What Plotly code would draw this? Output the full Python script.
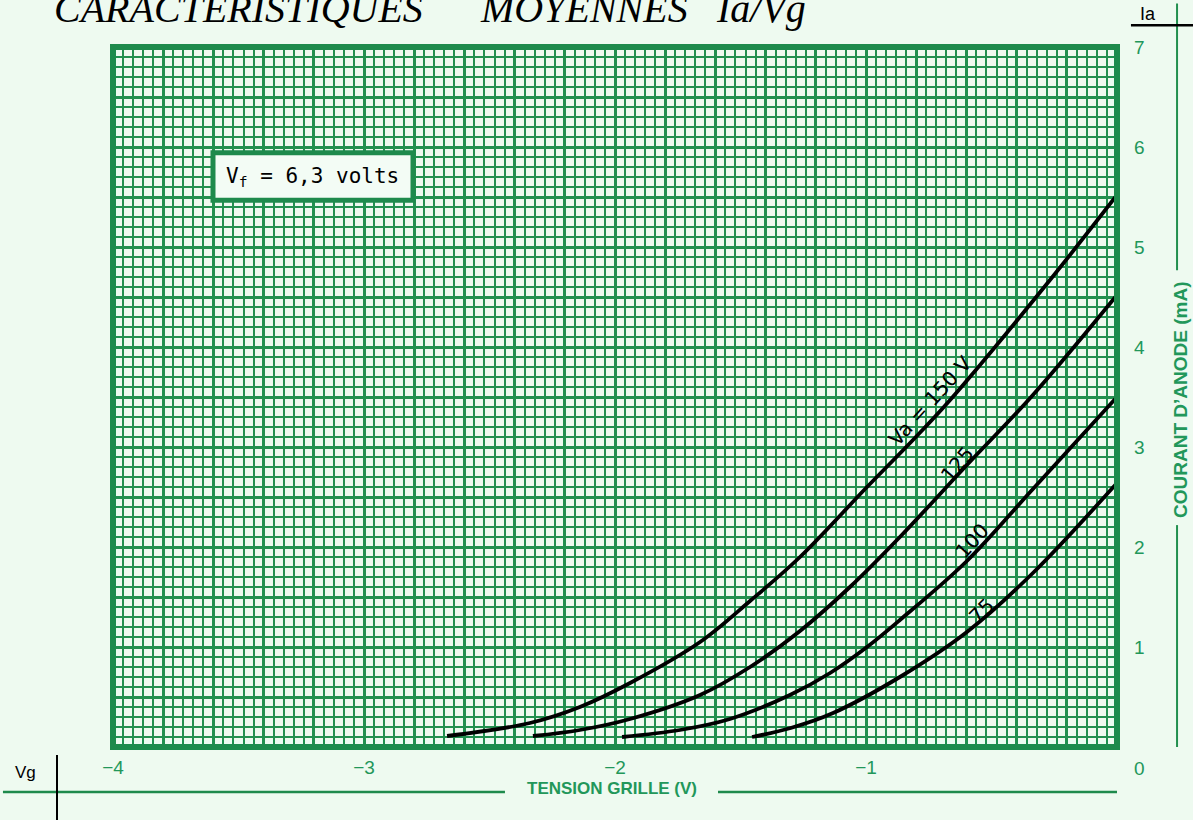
import plotly.graph_objects as go

# ---------------- data ----------------
vg_150 = [-2.669, -2.339, -2.14, -1.94, -1.661, -1.462, -1.263, -0.996, -0.813, -0.665, -0.267, 0.00]
ia_150 = [0.11, 0.24, 0.40, 0.64, 1.05, 1.46, 1.90, 2.60, 3.07, 3.47, 4.67, 5.52]

vg_125 = [-2.327, -2.14, -1.94, -1.661, -1.462, -1.263, -1.064, -0.865, -0.598, -0.335, 0.00]
ia_125 = [0.11, 0.17, 0.28, 0.52, 0.80, 1.16, 1.60, 2.10, 2.82, 3.52, 4.52]

vg_100 = [-1.972, -1.741, -1.542, -1.303, -1.143, -0.996, -0.865, -0.598, -0.335, 0.00]
ia_100 = [0.10, 0.17, 0.28, 0.52, 0.74, 1.00, 1.27, 1.86, 2.58, 3.50]

vg_75 = [-1.454, -1.30, -1.131, -0.865, -0.598, -0.335, 0.00]
ia_75 = [0.10, 0.19, 0.34, 0.70, 1.15, 1.74, 2.64]

curve_names = ["Va = 150 V", "125", "100", "75"]
label_x = [-0.745, -0.636, -0.578, -0.540]
label_y = [3.46, 2.83, 2.06, 1.36]
label_angle = [-48, -50, -48, -45]

title_words = ["<i>CARACTERISTIQUES</i>", "<i>MOYENNES</i>", "<i>Ia/Vg</i>"]

x_tick_vals = [-4, -3, -2, -1]
x_tick_text = ["\u22124", "\u22123", "\u22122", "\u22121"]
y_tick_vals = [1, 2, 3, 4, 5, 6, 7]
y_tick_text = ["1", "2", "3", "4", "5", "6", "7"]

# ---------------- style ----------------
BG = "#eefaf0"
GRID = "#22904f"
BORDER = "#1e8a4c"
TXT_G = "#22975a"
FONT = "Liberation Sans, Arial, sans-serif"

# grid positions: thick lines every 0.2 V / 0.5 mA, thin every 0.04 V / 0.1 mA
x_grid = [round(-4 + 0.2 * i, 3) for i in range(21)]
x_grid_text = [x_tick_text[x_tick_vals.index(v)] if v in x_tick_vals else "" for v in x_grid]
y_grid = [round(0.5 * i, 3) for i in range(15)]
y_grid_text = [y_tick_text[y_tick_vals.index(v)] if v in y_tick_vals else "" for v in y_grid]

fig = go.Figure()
for xs, ys in [(vg_150, ia_150), (vg_125, ia_125), (vg_100, ia_100), (vg_75, ia_75)]:
    fig.add_trace(go.Scatter(x=xs, y=ys, mode="lines",
                             line=dict(color="black", width=3.8, shape="spline", smoothing=1.0),
                             hoverinfo="skip", showlegend=False))

fig.update_layout(
    width=1193, height=820,
    margin=dict(l=113, r=76, t=47, b=73),
    paper_bgcolor=BG, plot_bgcolor=BG,
    showlegend=False,
    xaxis=dict(range=[-4, 0], tickmode="array", tickvals=x_grid, ticktext=x_grid_text,
               showgrid=True, gridcolor=GRID, gridwidth=2.8, zeroline=False,
               ticks="", ticklabelstandoff=7,
               tickfont=dict(family=FONT, size=19, color=TXT_G),
               minor=dict(tickmode="linear", tick0=-4, dtick=0.04, showgrid=True,
                          gridcolor=GRID, gridwidth=1.8),
               showline=False, fixedrange=True),
    yaxis=dict(range=[0, 7], tickmode="array", tickvals=y_grid, ticktext=y_grid_text,
               side="right", showgrid=True, gridcolor=GRID, gridwidth=2.8, zeroline=False,
               ticks="", ticklabelstandoff=16,
               tickfont=dict(family=FONT, size=19, color=TXT_G),
               minor=dict(tickmode="linear", tick0=0, dtick=0.1, showgrid=True,
                          gridcolor=GRID, gridwidth=1.8),
               showline=False, fixedrange=True),
)

shapes = []
# thick plot border
shapes.append(dict(type="rect", xref="paper", yref="paper", x0=0, x1=1, y0=0, y1=1,
                   line=dict(color=BORDER, width=6), layer="above"))
# Vf box
shapes.append(dict(type="rect", xref="paper", yref="paper", x0=0.0996, x1=0.2988, y0=0.781, y1=0.849,
                   line=dict(color=BORDER, width=5), fillcolor="#f3fcf5", layer="above"))
# bottom decoration lines
shapes.append(dict(type="line", xref="paper", yref="paper", x0=-0.1096, x1=0.3904, y0=-0.0643, y1=-0.0643,
                   line=dict(color=BORDER, width=2.5)))
shapes.append(dict(type="line", xref="paper", yref="paper", x0=0.6026, x1=1.0, y0=-0.0643, y1=-0.0643,
                   line=dict(color=BORDER, width=2.5)))
shapes.append(dict(type="line", xref="paper", yref="paper", x0=-0.0558, x1=-0.0558, y0=-0.0114, y1=-0.11,
                   line=dict(color="black", width=2)))
# right decoration lines
shapes.append(dict(type="line", xref="paper", yref="paper", x0=1.0598, x1=1.0598, y0=1.062, y1=0.681,
                   line=dict(color=GRID, width=2)))
shapes.append(dict(type="line", xref="paper", yref="paper", x0=1.0598, x1=1.0598, y0=0.317, y1=0.0,
                   line=dict(color=GRID, width=2)))
shapes.append(dict(type="line", xref="paper", yref="paper", x0=1.0139, x1=1.08, y0=1.031, y1=1.031,
                   line=dict(color="black", width=2.5)))
fig.update_layout(shapes=shapes)

ann = []
# curve labels
for name, lx, ly, ang in zip(curve_names, label_x, label_y, label_angle):
    ann.append(dict(x=lx, y=ly, xref="x", yref="y", text=name, showarrow=False, textangle=ang,
                    xanchor="center", yanchor="middle",
                    font=dict(family="DejaVu Sans, sans-serif", size=20, color="black")))
# Vf box text
ann.append(dict(x=0.1992, y=0.815, xref="paper", yref="paper", showarrow=False,
                xanchor="center", yanchor="middle",
                text="V<sub>f</sub> = 6,3 volts",
                font=dict(family="DejaVu Sans Mono, monospace", size=21, color="black")))
# title (cut at the top-left edge), three words placed like the reference
title_font = dict(family="Liberation Serif, serif", size=40, color="black")
ann.append(dict(x=0.3108, y=1.0557, xref="paper", yref="paper", xanchor="right", yanchor="middle",
                showarrow=False, text=title_words[0], font=title_font))
ann.append(dict(x=0.3635, y=1.0557, xref="paper", yref="paper", xanchor="left", yanchor="middle",
                showarrow=False, text=title_words[1], font=title_font))
ann.append(dict(x=0.6922, y=1.0557, xref="paper", yref="paper", xanchor="right", yanchor="middle",
                showarrow=False, text=title_words[2], font=title_font))
# axis texts
ann.append(dict(x=0.497, y=-0.0586, xref="paper", yref="paper", showarrow=False,
                xanchor="center", yanchor="middle",
                text="<b>TENSION GRILLE (V)</b>",
                font=dict(family=FONT, size=17, color=TXT_G)))
ann.append(dict(x=1.0627, y=0.4957, xref="paper", yref="paper", showarrow=False, textangle=-90,
                xanchor="center", yanchor="middle",
                text="<b>COURANT D\u2019ANODE (mA)</b>",
                font=dict(family=FONT, size=19, color=TXT_G)))
ann.append(dict(x=1.0229, y=-0.030, xref="paper", yref="paper", showarrow=False, text="0",
                xanchor="center", yanchor="middle",
                font=dict(family=FONT, size=19, color=TXT_G)))
ann.append(dict(x=-0.0876, y=-0.0371, xref="paper", yref="paper", showarrow=False, text="Vg",
                xanchor="center", yanchor="middle",
                font=dict(family=FONT, size=17, color="black")))
ann.append(dict(x=1.031, y=1.047, xref="paper", yref="paper", showarrow=False, text="Ia",
                xanchor="center", yanchor="middle",
                font=dict(family=FONT, size=18, color="black")))
fig.update_layout(annotations=ann)

fig.write_html("out.html",
               config={"displayModeBar": False},
               post_script="document.body.style.margin='0px';"
                           "document.body.style.background='#eefaf0';")
